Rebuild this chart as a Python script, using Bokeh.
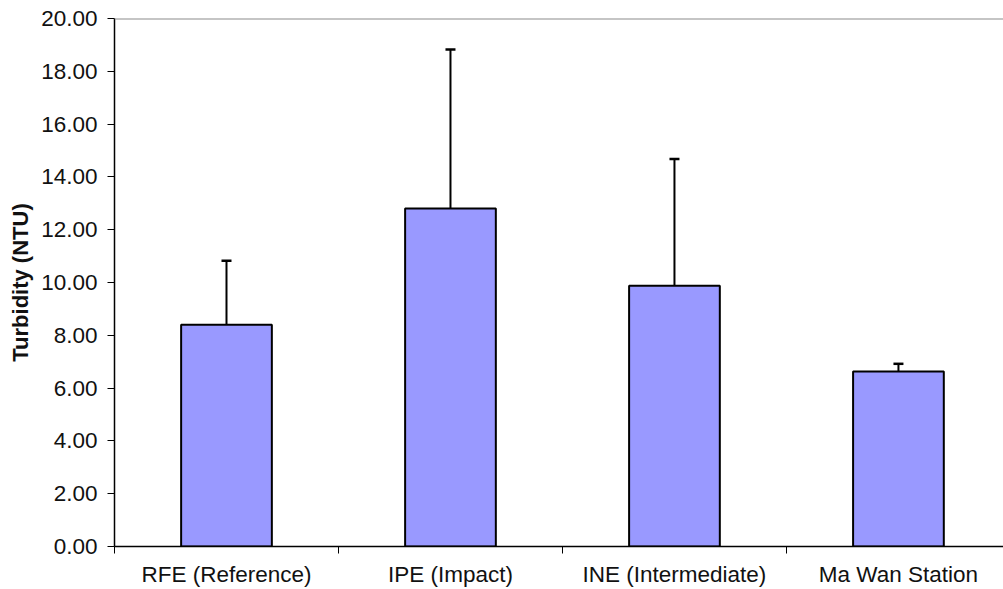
from bokeh.plotting import figure
from bokeh.models import (ColumnDataSource, Range1d, FixedTicker, NumeralTickFormatter,
                          Whisker, TeeHead, Span)
from bokeh.embed import file_html
from bokeh.resources import INLINE

categories = ["RFE (Reference)", "IPE (Impact)", "INE (Intermediate)", "Ma Wan Station"]
means = [8.40, 12.80, 9.88, 6.63]
errors = [2.42, 6.03, 4.80, 0.29]
y_ticks = [0, 2, 4, 6, 8, 10, 12, 14, 16, 18, 20]

xs = [i + 0.5 for i in range(len(categories))]
src = ColumnDataSource(dict(
    x=xs, top=means,
    upper=[m + e for m, e in zip(means, errors)],
    lower=means,
))

FONT = "Liberation Sans"

p = figure(width=1003, height=589, output_backend="svg", toolbar_location=None,
           x_range=Range1d(0, 3.969), y_range=Range1d(0, 20),
           min_border_left=114, min_border_top=18, min_border_right=0, min_border_bottom=42)
p.outline_line_color = None
p.grid.visible = False
p.background_fill_color = "white"

p.vbar(x="x", top="top", bottom=0, width=0.405, source=src,
       fill_color="#9999FF", line_color="black", line_width=2)

w = Whisker(base="x", upper="upper", lower="lower", source=src,
            line_color="black", line_width=2,
            upper_head=TeeHead(size=10, line_color="black", line_width=2.5),
            lower_head=None)
p.add_layout(w)

p.add_layout(Span(location=20, dimension="width", line_color="#8c8c8c", line_width=2))

# y axis
ya = p.yaxis[0]
ya.ticker = FixedTicker(ticks=y_ticks)
ya.formatter = NumeralTickFormatter(format="0.00")
ya.axis_line_color = "black"
ya.axis_line_width = 1.5
ya.major_tick_in = 0
ya.major_tick_out = 7
ya.major_tick_line_width = 1
ya.minor_tick_line_color = None
ya.major_label_text_font = FONT
ya.major_label_text_font_size = "22.5px"
ya.major_label_text_color = "#111111"
ya.major_label_standoff = 10
ya.axis_label = "Turbidity (NTU)"
ya.axis_label_text_font = FONT
ya.axis_label_text_font_style = "bold"
ya.axis_label_text_font_size = "22px"
ya.axis_label_text_color = "#111111"
ya.axis_label_standoff = 5

# x axis
xa = p.xaxis[0]
xa.ticker = FixedTicker(ticks=xs, minor_ticks=[0, 1, 2, 3])
xa.major_label_overrides = {x: c for x, c in zip(xs, categories)}
xa.axis_line_color = "black"
xa.axis_line_width = 1.5
xa.major_tick_line_color = None
xa.minor_tick_in = 0
xa.minor_tick_out = 7
xa.minor_tick_line_color = "black"
xa.minor_tick_line_width = 1
xa.major_label_text_font = FONT
xa.major_label_text_font_size = "22.5px"
xa.major_label_text_color = "#111111"
xa.major_label_standoff = 8

open("out.html", "w").write(file_html(p, INLINE))
